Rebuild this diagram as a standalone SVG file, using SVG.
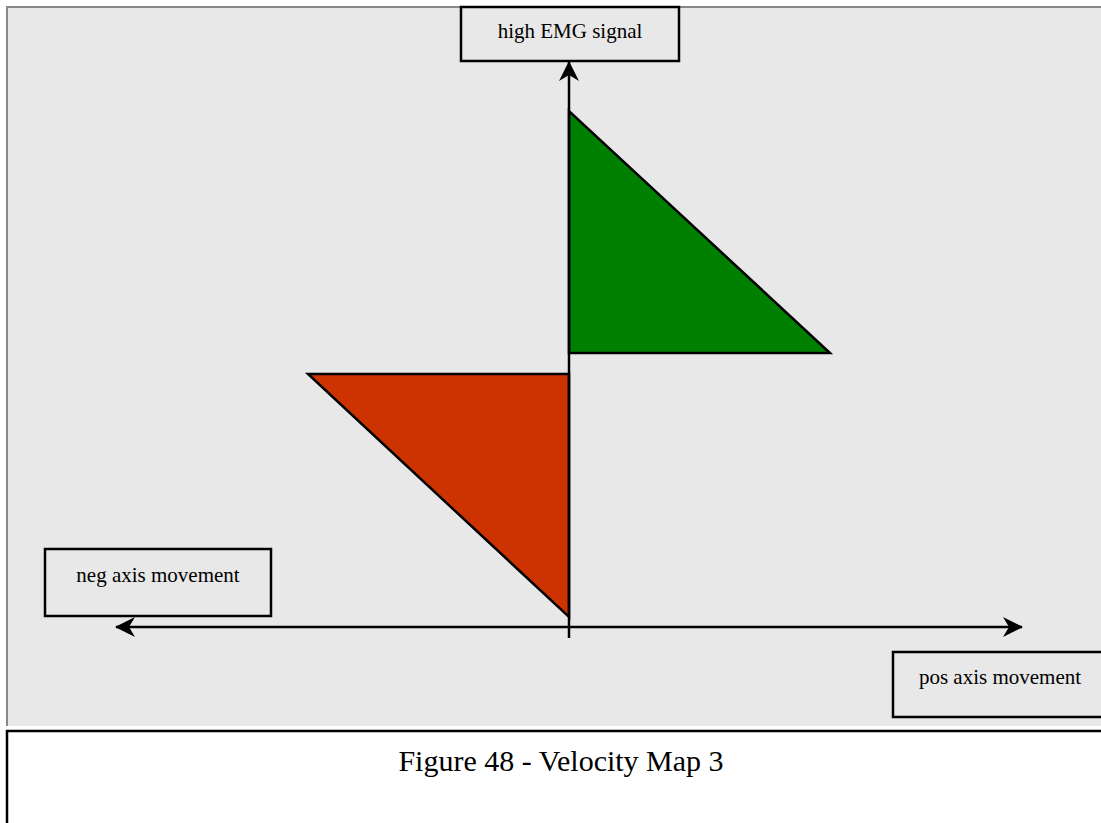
<svg xmlns="http://www.w3.org/2000/svg" width="1101" height="823" viewBox="0 0 1101 823">
  <style>
    .label { font-family: "Liberation Serif", "Times New Roman", serif; font-size: 21px; fill: #000; text-anchor: middle; }
    .box { fill: none; stroke: #000; stroke-width: 2.5; }
    .axis { stroke: #000; stroke-width: 2.5; fill: none; }
    .tri { stroke: #000; stroke-width: 2.5; stroke-linejoin: miter; }
  </style>
  <defs>
    <marker id="head" viewBox="0 0 20 20" refX="19" refY="10" markerWidth="20" markerHeight="20" markerUnits="userSpaceOnUse" orient="auto">
      <path d="M0,0 L20,10 L0,20 L6,10 Z" fill="#000"/>
    </marker>
  </defs>

  <!-- plot background -->
  <rect x="0" y="0" width="1101" height="823" fill="#fff"/>
  <rect x="7" y="7" width="1094" height="719" fill="#e8e8e8"/>
  <path d="M7,726 V7 H1101" fill="none" stroke="#888" stroke-width="2"/>

  <!-- regions -->
  <g id="pos-region">
    <polygon class="tri" points="569,111 569,353 830,353" fill="#008000"/>
  </g>
  <g id="neg-region">
    <polygon class="tri" points="308,374 569,374 569,617" fill="#cc3300"/>
  </g>

  <!-- axes -->
  <g id="connectors">
    <line class="axis" x1="569" y1="638" x2="569" y2="62" marker-end="url(#head)"/>
    <line class="axis" x1="569" y1="627" x2="1022" y2="627" marker-end="url(#head)"/>
    <line class="axis" x1="569" y1="627" x2="116" y2="627" marker-end="url(#head)"/>
  </g>

  <g id="high-emg">
    <rect class="box" x="461" y="7" width="218" height="54"/>
    <text class="label" x="570" y="38">high EMG signal</text>
  </g>
  <g id="neg-axis">
    <rect class="box" x="45" y="549" width="226" height="67"/>
    <text class="label" x="158" y="582">neg axis movement</text>
  </g>
  <g id="pos-axis">
    <rect class="box" x="893" y="652" width="210" height="65"/>
    <text class="label" x="1000" y="684">pos axis movement</text>
  </g>

  <!-- caption -->
  <g id="caption">
    <rect x="7" y="731" width="1100" height="100" fill="#fff" stroke="#000" stroke-width="2.5"/>
    <text x="561" y="771" font-family="Liberation Serif, Times New Roman, serif" font-size="30" text-anchor="middle" fill="#000">Figure 48 - Velocity Map 3</text>
  </g>
</svg>
